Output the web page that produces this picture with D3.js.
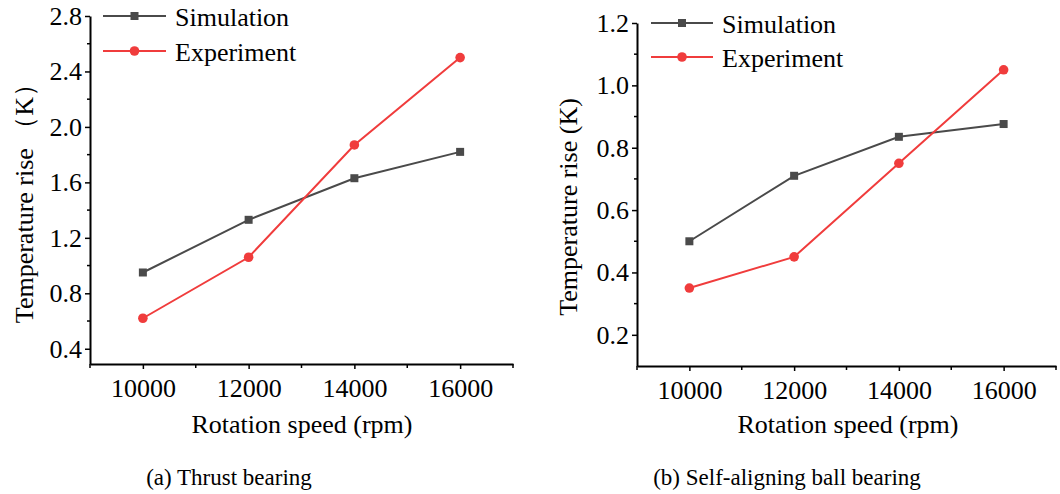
<!DOCTYPE html>
<html>
<head>
<meta charset="utf-8">
<script src="https://cdn.jsdelivr.net/npm/d3@7"></script>
<style>
  html, body { margin: 0; padding: 0; background: #fff; overflow: hidden; }
  svg { display: block; }
</style>
</head>
<body>
<svg id="chart" width="1060" height="494"></svg>
<script>
// ---- Data ----
const speeds = [10000, 12000, 14000, 16000];
const thrustSimulation = [0.95, 1.33, 1.63, 1.82];
const thrustExperiment = [0.62, 1.06, 1.87, 2.50];
const ballSimulation = [0.50, 0.71, 0.835, 0.876];
const ballExperiment = [0.35, 0.45, 0.75, 1.05];
const thrustYTicks = [0.4, 0.8, 1.2, 1.6, 2.0, 2.4, 2.8];
const ballYTicks = [0.2, 0.4, 0.6, 0.8, 1.0, 1.2];
const xTicks = [10000, 12000, 14000, 16000];
const seriesNames = ["Simulation", "Experiment"];
const captions = ["(a) Thrust bearing", "(b) Self-aligning ball bearing"];
const yTitles = ["Temperature rise （K）", "Temperature rise (K)"];
const xTitle = "Rotation speed (rpm)";

const FONT = '"Liberation Serif"';
const colors = { Simulation: "#4a4a4a", Experiment: "#f03c3c" };
const svg = d3.select("#chart");

function txt(sel, size) {
  return sel.style("font-family", FONT).style("font-size", size + "px").attr("fill", "#000");
}

function panel(cfg) {
  const g = svg.append("g");
  const x = d3.scaleLinear().domain([9000, 17000]).range([cfg.x0, cfg.x1]);
  const y = d3.scaleLinear().domain(cfg.yDomain).range([cfg.y0, cfg.y1]);

  // X axis
  const xAxis = d3.axisBottom(x).tickValues(xTicks).tickFormat(d3.format("d"))
    .tickSizeInner(5).tickSizeOuter(0).tickPadding(10);
  const gx = g.append("g").attr("transform", `translate(0,${cfg.y0})`).call(xAxis);
  gx.select(".domain").attr("stroke", "#000").attr("stroke-width", 2);
  gx.selectAll(".tick line").attr("stroke", "#000").attr("stroke-width", 1.5);
  txt(gx.selectAll(".tick text"), 26);
  // minor x ticks
  const xMinor = d3.range(9000, 17001, 2000);
  g.append("g").selectAll("line").data(xMinor).join("line")
    .attr("x1", d => x(d)).attr("x2", d => x(d))
    .attr("y1", cfg.y0).attr("y2", cfg.y0 + 4)
    .attr("stroke", "#000").attr("stroke-width", 1.5);

  // Y axis
  const yAxis = d3.axisLeft(y).tickValues(cfg.yTicks).tickFormat(d3.format(".1f"))
    .tickSizeInner(5).tickSizeOuter(0).tickPadding(3);
  const gy = g.append("g").attr("transform", `translate(${cfg.x0},0)`).call(yAxis);
  gy.select(".domain").attr("stroke", "#000").attr("stroke-width", 2);
  gy.selectAll(".tick line").attr("stroke", "#000").attr("stroke-width", 1.5);
  txt(gy.selectAll(".tick text"), 26);
  // minor y ticks
  const step = cfg.yTicks[1] - cfg.yTicks[0];
  const yMinor = cfg.yTicks.slice(0, -1).map(v => v + step / 2);
  g.append("g").selectAll("line").data(yMinor).join("line")
    .attr("x1", cfg.x0).attr("x2", cfg.x0 - 3)
    .attr("y1", d => y(d)).attr("y2", d => y(d))
    .attr("stroke", "#000").attr("stroke-width", 1.5);

  // Lines & markers
  const line = d3.line().x((d, i) => x(speeds[i])).y(d => y(d));
  const data = { Simulation: cfg.sim, Experiment: cfg.exp };
  seriesNames.forEach(name => {
    g.append("path").datum(data[name]).attr("d", line)
      .attr("fill", "none").attr("stroke", colors[name]).attr("stroke-width", 2);
    const pts = g.append("g").selectAll("g").data(data[name]).join("g")
      .attr("transform", (d, i) => `translate(${x(speeds[i])},${y(d)})`);
    if (name === "Simulation") {
      pts.append("rect").attr("x", -4).attr("y", -4).attr("width", 8).attr("height", 8).attr("fill", colors[name]);
    } else {
      pts.append("circle").attr("r", 4.8).attr("fill", colors[name]);
    }
  });

  // Legend
  seriesNames.forEach((name, i) => {
    const ly = cfg.legY[i];
    g.append("line").attr("x1", cfg.legX0).attr("x2", cfg.legX1).attr("y1", ly).attr("y2", ly)
      .attr("stroke", colors[name]).attr("stroke-width", 2);
    const mx = (cfg.legX0 + cfg.legX1) / 2;
    if (name === "Simulation") {
      g.append("rect").attr("x", mx - 4).attr("y", ly - 4).attr("width", 8).attr("height", 8).attr("fill", colors[name]);
    } else {
      g.append("circle").attr("cx", mx).attr("cy", ly).attr("r", 4.8).attr("fill", colors[name]);
    }
    txt(g.append("text").attr("x", cfg.legX1 + 9).attr("y", ly + 10), 26).text(name);
  });

  // Axis titles
  txt(g.append("text").attr("x", cfg.xTitleX).attr("y", 433).attr("text-anchor", "middle"), 26).text(xTitle);
  txt(g.append("text").attr("transform", `translate(${cfg.yTitleX},${cfg.yTitleY}) rotate(-90)`)
    .attr("text-anchor", "middle"), 26).text(cfg.yTitle);

  // Caption
  txt(g.append("text").attr("x", cfg.capX).attr("y", 485).attr("text-anchor", "middle"), 23).text(cfg.caption);
}

panel({
  x0: 90, x1: 513, y0: 364, y1: 16, yDomain: [0.29, 2.8], yTicks: thrustYTicks,
  sim: thrustSimulation, exp: thrustExperiment,
  legX0: 103, legX1: 166, legY: [16, 51],
  xTitleX: 302, yTitleX: 33, yTitleY: 197, yTitle: yTitles[0],
  capX: 229, caption: captions[0]
});
panel({
  x0: 637, x1: 1056, y0: 366, y1: 23, yDomain: [0.1, 1.2], yTicks: ballYTicks,
  sim: ballSimulation, exp: ballExperiment,
  legX0: 651, legX1: 713, legY: [23, 57],
  xTitleX: 848, yTitleX: 577, yTitleY: 207, yTitle: yTitles[1],
  capX: 787, caption: captions[1]
});
</script>
</body>
</html>
